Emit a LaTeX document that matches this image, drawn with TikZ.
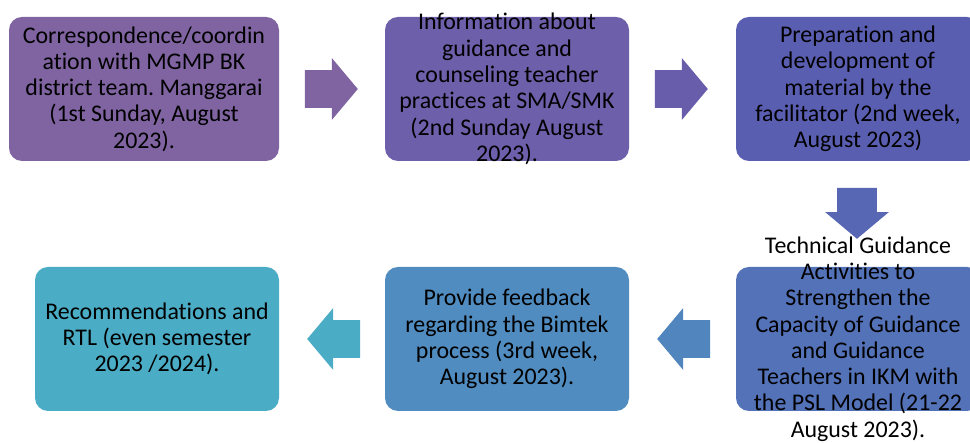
\documentclass[tikz,border=0pt]{standalone}
\usepackage{fontspec}
\setmainfont{Carlito}[Ligatures=NoCommon]
\usepackage{xcolor}
\usetikzlibrary{shapes.arrows,calc}
\frenchspacing

% step fills, purple to teal
\definecolor{stepA}{HTML}{8064A2}
\definecolor{stepB}{HTML}{6D5FA9}
\definecolor{stepC}{HTML}{5A5EB1}
\definecolor{stepD}{HTML}{5472B8}
\definecolor{stepE}{HTML}{508CBF}
\definecolor{stepF}{HTML}{4BACC6}
% arrow fills
\definecolor{arrA}{HTML}{8064A2}
\definecolor{arrB}{HTML}{675DAB}
\definecolor{arrC}{HTML}{5767B4}
\definecolor{arrD}{HTML}{5185BD}
\definecolor{arrE}{HTML}{4BACC6}

\tikzset{
  stepbox/.style={rounded corners=6.5pt, minimum width=122pt, minimum height=72pt, inner sep=0pt},
  steptext/.style={align=center, text=black, font=\fontsize{11.95}{13.15}\selectfont},
  flow/.style={single arrow, single arrow tip angle=100, single arrow head extend=6pt,
    minimum height=26.5pt, minimum width=30.5pt, inner xsep=0pt, inner ysep=9.25pt, anchor=tail}
}

\begin{document}
\begin{tikzpicture}[x=0.5pt,y=0.5pt]
\path[use as bounding box, fill=white] (0,0) rectangle (970,443);

% top row
\node[stepbox, fill=stepA, minimum width=135pt] (b1) at (144,354) {};
\node[stepbox, fill=stepB] (b2) at (507,354) {};
\node[stepbox, fill=stepC] (b3) at (858,354) {};
% bottom row
\node[stepbox, fill=stepD] (b4) at (858,104) {};
\node[stepbox, fill=stepE] (b5) at (507,104) {};
\node[stepbox, fill=stepF] (b6) at (157,104) {};

\node[steptext] (t1) at (b1) {Correspondence/coordin\\ation with MGMP BK\\district team. Manggarai\\(1st Sunday, August\\2023).};
\node[steptext] (t2) at (b2) {Information about\\guidance and\\counseling teacher\\practices at SMA/SMK\\(2nd Sunday August\\2023).};
\node[steptext] (t3) at (b3) {Preparation and\\development of\\material by the\\facilitator (2nd week,\\August 2023)};
\node[steptext] (t4) at (b4) {Technical Guidance\\Activities to\\Strengthen the\\Capacity of Guidance\\and Guidance\\Teachers in IKM with\\the PSL Model (21-22\\August 2023).};
\node[steptext] (t5) at (b5) {Provide feedback\\regarding the Bimtek\\process (3rd week,\\August 2023).};
\node[steptext] (t6) at (b6) {Recommendations and\\RTL (even semester\\2023 /2024).};

% arrows between the steps
\node[flow, fill=arrA] (a12) at ($(b1.east)+(25,0)$) {};
\node[flow, fill=arrB] (a23) at ($(b2.east)+(25,0)$) {};
\node[flow, fill=arrC, rotate=-90, minimum height=25.5pt, minimum width=31pt,
  inner ysep=9.75pt] (a34) at ($(b3.south)+(-1,-26)$) {};
\node[flow, fill=arrD, rotate=180] (a45) at ($(b4.west)+(-25,0)$) {};
\node[flow, fill=arrE, rotate=180] (a56) at ($(b5.west)+(-24,0)$) {};
\end{tikzpicture}
\end{document}
